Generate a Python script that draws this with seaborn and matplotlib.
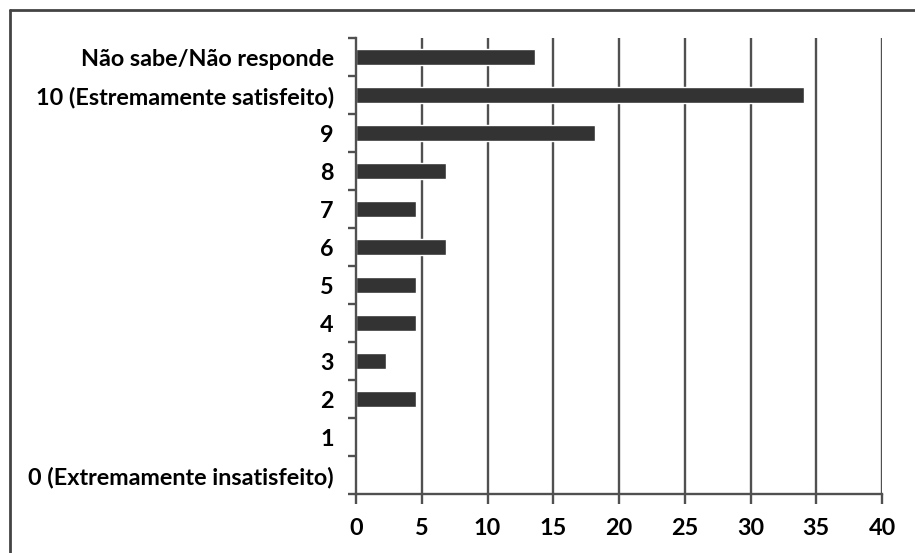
import matplotlib
matplotlib.use("Agg")
import matplotlib.pyplot as plt
from matplotlib.lines import Line2D
import numpy as np
import pandas as pd
import seaborn as sns

categories = [
    "Não sabe/Não responde",
    "10 (Estremamente satisfeito)",
    "9",
    "8",
    "7",
    "6",
    "5",
    "4",
    "3",
    "2",
    "1",
    "0 (Extremamente insatisfeito)",
]
percentages = [13.64, 34.09, 18.18, 6.82, 4.55, 6.82, 4.55, 4.55, 2.27, 4.55, 0.0, 0.0]
x_ticks = [0, 5, 10, 15, 20, 25, 30, 35, 40]

df = pd.DataFrame({"categoria": categories, "pct": percentages})

sns.set_theme(style="white")
plt.rcParams["font.family"] = ["Lato", "DejaVu Sans"]

W, H = 915, 553
fig = plt.figure(figsize=(W / 100, H / 100), dpi=100)
ax = fig.add_axes([356 / W, (H - 494) / H, (882 - 356) / W, (494 - 38) / H])

grid_color = "#505050"
for xv in x_ticks[1:]:
    ax.axvline(xv, color=grid_color, lw=1.7, zorder=0)

sns.barplot(data=df, x="pct", y="categoria", order=categories, color="#333333",
            width=0.4, saturation=1, ax=ax, zorder=2)

ax.set_xlim(0, 40)
ax.set_ylim(len(categories) - 0.5, -0.5)
ax.set_xticks(x_ticks)
ax.set_xticklabels([str(v) for v in x_ticks])
ax.set_xlabel("")
ax.set_ylabel("")

# category labels centred on bars, tick marks on category boundaries
ax.set_yticks(range(len(categories)))
ax.set_yticklabels(categories)
ax.set_yticks(np.arange(len(categories) + 1) - 0.5, minor=True)
ax.tick_params(axis="y", which="major", length=0, pad=16, labelsize=16.8,
               labelcolor="black")
ax.tick_params(axis="y", which="minor", length=6, width=1.7, color=grid_color,
               direction="out", left=True)
ax.tick_params(axis="x", which="major", length=7, width=1.7, color=grid_color,
               direction="out", bottom=True, pad=10, labelsize=16.8,
               labelcolor="black")
for lbl in ax.get_yticklabels() + ax.get_xticklabels():
    lbl.set_fontweight("bold")

for side in ["top", "right"]:
    ax.spines[side].set_visible(False)
for side in ["left", "bottom"]:
    ax.spines[side].set_color(grid_color)
    ax.spines[side].set_linewidth(1.7)

# chart frame (left and top edges)
fx = 10 / W
fy = 1 - 10 / H
fig.add_artist(Line2D([fx, fx], [0, fy], transform=fig.transFigure,
                      color="#444444", lw=2))
fig.add_artist(Line2D([fx, 1], [fy, fy], transform=fig.transFigure,
                      color="#444444", lw=2))

fig.savefig("out.png", dpi=100)
